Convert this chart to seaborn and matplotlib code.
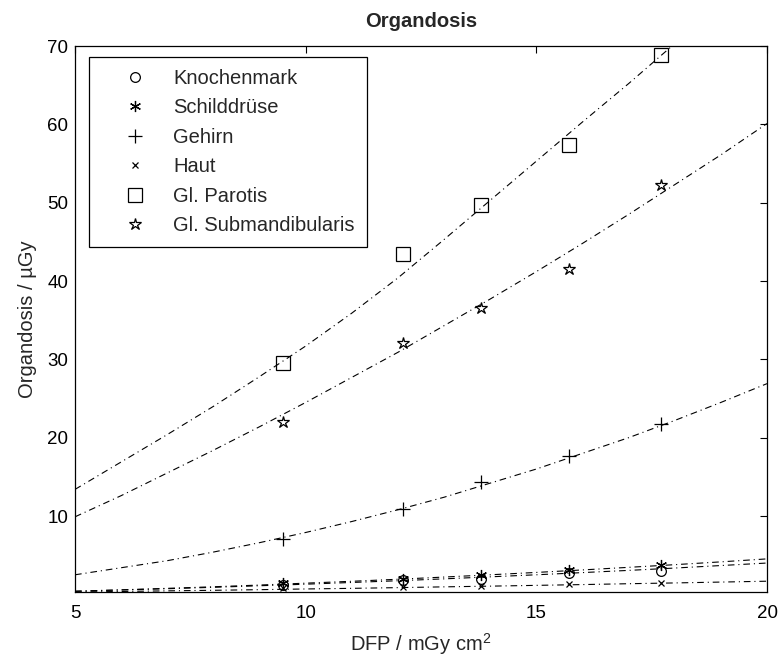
import matplotlib
matplotlib.use('Agg')
import pandas as pd
import matplotlib.pyplot as plt
import seaborn as sns

# Messpunkte (DFP in mGy cm^2, Organdosis in µGy)
dfp = [9.5, 12.1, 13.8, 15.7, 17.7]
knochenmark = [1.2, 1.8, 2.0, 2.7, 3.0]
schilddruese = [1.4, 2.0, 2.5, 3.1, 3.7]
gehirn = [7.1, 10.9, 14.4, 17.7, 21.8]
haut = [0.8, 1.0, 1.1, 1.3, 1.4]
parotis = [29.5, 43.5, 49.7, 57.4, 68.8]
submandibularis = [22.0, 32.1, 36.5, 41.5, 52.3]

fit_dfp = [5, 6, 7, 8, 9, 10, 11, 12, 13, 14, 15, 16, 17, 18, 19, 20]
fit_knochenmark = [0.40, 0.56, 0.72, 0.90, 1.10, 1.30, 1.52, 1.74, 1.98,
                   2.24, 2.50, 2.78, 3.06, 3.36, 3.68, 4.00]
fit_schilddruese = [0.40, 0.58, 0.77, 0.97, 1.19, 1.43, 1.67, 1.93, 2.21,
                    2.50, 2.80, 3.12, 3.45, 3.79, 4.15, 4.53]
fit_gehirn = [2.5, 3.4, 4.3, 5.4, 6.6, 7.9, 9.3, 10.8, 12.4, 14.2, 16.0,
              18.0, 20.0, 22.2, 24.5, 26.9]
fit_haut = [0.30, 0.37, 0.45, 0.52, 0.60, 0.69, 0.77, 0.86, 0.96, 1.05,
            1.15, 1.25, 1.36, 1.46, 1.57, 1.68]
fit_parotis = [13.4, 16.9, 20.4, 24.0, 27.8, 31.7, 35.9, 40.4, 45.3, 50.3,
               55.3, 60.3, 65.2, 70.3]
fit_submandibularis = [9.9, 12.6, 15.5, 18.4, 21.4, 24.5, 27.7, 30.9, 34.3,
                       37.7, 41.2, 44.8, 48.5, 52.3, 56.1, 60.1]

organe = ['Knochenmark', 'Schilddrüse', 'Gehirn', 'Haut', 'Gl. Parotis',
          'Gl. Submandibularis']
punkte_werte = [knochenmark, schilddruese, gehirn, haut, parotis,
                submandibularis]
fit_werte = [fit_knochenmark, fit_schilddruese, fit_gehirn, fit_haut,
             fit_parotis, fit_submandibularis]

# Marker wie im Original (MATLAB-Stil)
marker_stil = {
    'Knochenmark': ('o', 7),
    'Schilddrüse': ((6, 2, 0), 8),
    'Gehirn': ('+', 10),
    'Haut': ('x', 5),
    'Gl. Parotis': ('s', 9.5),
    'Gl. Submandibularis': ('*', 9),
}

# Lange Tabellen bauen
punkte = pd.concat([pd.DataFrame({'organ': o, 'dfp': dfp, 'dosis': w})
                    for o, w in zip(organe, punkte_werte)])
fits = pd.concat([pd.DataFrame({'organ': o, 'dfp': fit_dfp[:len(w)],
                                'dosis': w})
                  for o, w in zip(organe, fit_werte)])

sns.set_style('white')
plt.rcParams['font.family'] = ['Liberation Sans', 'DejaVu Sans']
plt.rcParams['mathtext.default'] = 'regular'
plt.rcParams['axes.edgecolor'] = 'black'
plt.rcParams['axes.linewidth'] = 0.9

fig, ax = plt.subplots(figsize=(7.79, 6.6), dpi=100)
fig.subplots_adjust(left=0.0963, right=0.9846, top=0.9303, bottom=0.103)

strich_punkt = (0, (6, 3.5, 1, 3.5))

# Fitkurven (strichpunktiert)
for organ in organe:
    sns.lineplot(data=fits[fits['organ'] == organ], x='dfp', y='dosis',
                 color='black', linewidth=0.8, linestyle=strich_punkt,
                 estimator=None, ax=ax, legend=False)

# Messpunkte
for organ in organe:
    m, ms = marker_stil[organ]
    sns.lineplot(data=punkte[punkte['organ'] == organ], x='dfp', y='dosis',
                 marker=m, markersize=ms, linestyle='none', color='black',
                 markerfacecolor='none', markeredgecolor='black',
                 markeredgewidth=0.9, estimator=None, label=organ, ax=ax)

ax.set_xlim(5, 20)
ax.set_ylim(0.3, 70)
ax.set_xticks([5, 10, 15, 20])
ax.set_yticks([10, 20, 30, 40, 50, 60, 70])
ax.tick_params(direction='in', top=True, right=True, length=5, width=0.8,
               labelsize=13.5, colors='black')
ax.tick_params(axis='x', pad=9)
ax.tick_params(axis='y', pad=5)

ax.set_title('Organdosis', fontsize=14.5, fontweight='bold', pad=14)
ax.set_xlabel('DFP / mGy cm$^2$', fontsize=14.5, labelpad=7)
ax.set_ylabel('Organdosis / µGy', fontsize=14.5, labelpad=7)

leg = ax.legend(loc='upper left', bbox_to_anchor=(0.02, 0.98),
                borderaxespad=0, fontsize=14.5, frameon=True, fancybox=False,
                framealpha=1, edgecolor='black', handlelength=3.4,
                handletextpad=0.2, labelspacing=0.52, borderpad=0.6)
leg.get_frame().set_linewidth(0.9)

plt.savefig('out.png', dpi=100)
